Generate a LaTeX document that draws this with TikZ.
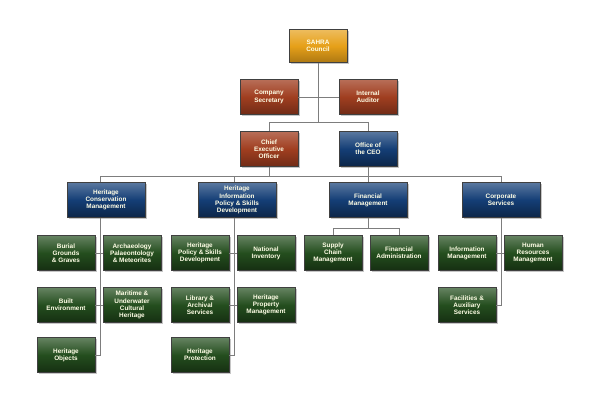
\documentclass[tikz,border=0pt]{standalone}
\usepackage{fontspec}
\setsansfont{Liberation Sans}
\usetikzlibrary{shadows}
\definecolor{sahragold}{RGB}{230,160,25}
\definecolor{sahrared}{RGB}{160,62,32}
\definecolor{sahrablue}{RGB}{20,62,118}
\definecolor{sahragreen}{RGB}{36,78,30}
\definecolor{linkgray}{RGB}{125,125,125}
\begin{document}
\begin{tikzpicture}[x=1pt, y=-1pt,
    box/.style={rectangle, draw=black!75, line width=0.4pt,
        minimum width=58pt, minimum height=35pt, inner sep=1pt, align=center,
        text=white!90!yellow, font=\sffamily\bfseries\fontsize{6.4}{7.2}\selectfont,
        drop shadow={shadow xshift=1.8pt, shadow yshift=-1.8pt, opacity=0.45}},
    goldbox/.style={box, top color=sahragold!70!white, bottom color=sahragold!75!black, middle color=sahragold},
    redbox/.style={box, top color=sahrared!75!white, bottom color=sahrared!70!black, middle color=sahrared},
    bluebox/.style={box, top color=sahrablue!70!white, bottom color=sahrablue!60!black, middle color=sahrablue},
    headbox/.style={bluebox, minimum width=78pt},
    greenbox/.style={box, top color=sahragreen!70!white, bottom color=sahragreen!60!black, middle color=sahragreen},
    link/.style={draw=linkgray, line width=0.7pt}]
\useasboundingbox (0,0) rectangle (600,400);

% Council and executive
\node[goldbox, minimum height=33pt] (council) at (318,46) {SAHRA\\Council};
\node[redbox] (compsec) at (269,97) {Company\\Secretary};
\node[redbox] (auditor) at (368,97) {Internal\\Auditor};
\node[redbox] (ceo) at (269,149) {Chief\\Executive\\Officer};
\node[bluebox] (oceo) at (368,149) {Office of\\the CEO};

% Divisions
\node[headbox] (hcm) at (106,200) {Heritage\\Conservation\\Management};
\node[headbox] (hipsd) at (237,200) {Heritage\\Information\\Policy \& Skills\\Development};
\node[headbox] (fm) at (368,200) {Financial\\Management};
\node[headbox] (corp) at (501,200) {Corporate\\Services};

% Heritage Conservation Management units
\node[greenbox] (burial) at (66,253) {Burial\\Grounds\\\& Graves};
\node[greenbox] (arch) at (132,253) {Archaeology\\Palaeontology\\\& Meteorites};
\node[greenbox] (built) at (66,305) {Built\\Environment};
\node[greenbox] (maritime) at (132,305) {Maritime \&\\Underwater\\Cultural\\Heritage};
\node[greenbox] (objects) at (66,355) {Heritage\\Objects};

% Heritage Information units
\node[greenbox] (policy) at (200,253) {Heritage\\Policy \& Skills\\Development};
\node[greenbox] (inventory) at (266,253) {National\\Inventory};
\node[greenbox] (library) at (200,305) {Library \&\\Archival\\Services};
\node[greenbox] (property) at (266,305) {Heritage\\Property\\Management};
\node[greenbox] (protection) at (200,355) {Heritage\\Protection};

% Finance units
\node[greenbox] (supply) at (333,253) {Supply\\Chain\\Management};
\node[greenbox] (finadmin) at (399,253) {Financial\\Administration};

% Corporate units
\node[greenbox] (infomgmt) at (467,253) {Information\\Management};
\node[greenbox] (hr) at (533,253) {Human\\Resources\\Management};
\node[greenbox] (facilities) at (467,305) {Facilities \&\\Auxiliary\\Services};

% Connectors
\coordinate (topbar) at (0,122);
\coordinate (midbar) at (0,176);
\coordinate (finbar) at (0,228);
\coordinate (spineA) at (100,0);
\coordinate (spineB) at (234,0);
\draw[link] (council.south) -- (council.south |- topbar);
\draw[link] (compsec.east) -- (auditor.west);
\draw[link] (ceo.north) -- (ceo.north |- topbar) -- (oceo.north |- topbar) -- (oceo.north);
\draw[link] (ceo.south) -- (ceo.south |- midbar);
\draw[link] (oceo.south) -- (fm.north);
\draw[link] (spineA |- hcm.north) -- (spineA |- midbar) -- (corp.north |- midbar) -- (corp.north);
\draw[link] (spineB |- midbar) -- (spineB |- hipsd.north);

\draw[link] (spineA |- hcm.south) -- (spineA |- objects.east) -- (objects.east);
\draw[link] (burial.east) -- (arch.west);
\draw[link] (built.east) -- (maritime.west);

\draw[link] (spineB |- hipsd.south) -- (spineB |- protection.east) -- (protection.east);
\draw[link] (policy.east) -- (inventory.west);
\draw[link] (library.east) -- (property.west);

\draw[link] (fm.south) -- (fm.south |- finbar);
\draw[link] (supply.north) -- (supply.north |- finbar) -- (finadmin.north |- finbar) -- (finadmin.north);

\draw[link] (corp.south) -- (corp.south |- facilities.east) -- (facilities.east);
\draw[link] (infomgmt.east) -- (hr.west);
\end{tikzpicture}
\end{document}
